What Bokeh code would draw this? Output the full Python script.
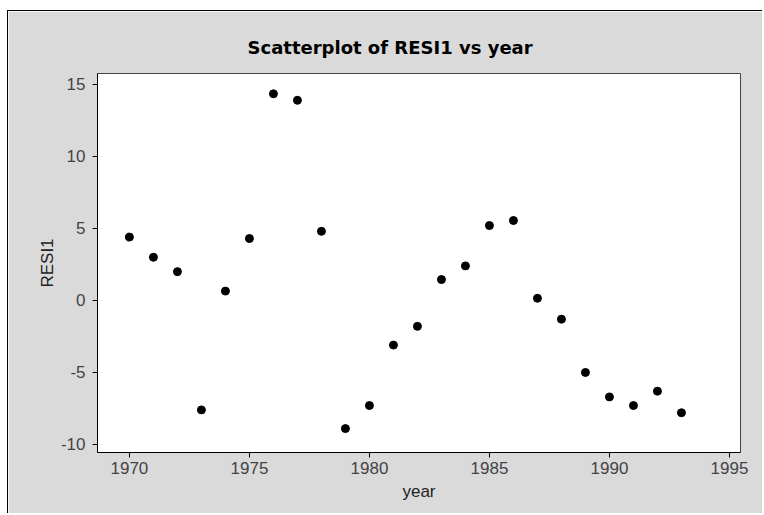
from bokeh.plotting import figure
from bokeh.models import ColumnDataSource, FixedTicker, Range1d, PrintfTickFormatter
from bokeh.embed import file_html
from bokeh.resources import INLINE

years = [1970, 1971, 1972, 1973, 1974, 1975, 1976, 1977, 1978, 1979, 1980, 1981,
         1982, 1983, 1984, 1985, 1986, 1987, 1988, 1989, 1990, 1991, 1992, 1993]
resi1 = [4.4, 3.0, 2.0, -7.6, 0.65, 4.3, 14.35, 13.9, 4.8, -8.9, -7.3, -3.1,
         -1.8, 1.45, 2.4, 5.2, 5.55, 0.15, -1.3, -5.0, -6.7, -7.3, -6.3, -7.8]
x_ticks = [1970, 1975, 1980, 1985, 1990, 1995]
y_ticks = [-10, -5, 0, 5, 10, 15]

src = ColumnDataSource(data=dict(year=years, resi=resi1))

p = figure(width=755, height=503, output_backend="svg", toolbar_location=None,
           x_range=Range1d(1968.67, 1995.46), y_range=Range1d(-10.56, 15.76),
           min_border_left=89, min_border_right=23, min_border_top=62, min_border_bottom=62,
           title="Scatterplot of RESI1 vs year")
p.styles = {"margin-left": "7px", "margin-top": "10px",
            "border-left": "1px solid black", "border-top": "1px solid black"}

p.scatter("year", "resi", source=src, size=8, color="black")

p.border_fill_color = "#dadada"
p.background_fill_color = "white"
p.outline_line_color = "#444444"
p.outline_line_width = 1
p.grid.visible = False

p.title.text_font = "DejaVu Sans"
p.title.text_font_size = "18px"
p.title.text_font_style = "bold"
p.title.text_color = "black"
p.title.align = "left"
p.title.offset = 150
p.title.standoff = 32

for ax in (p.xaxis[0], p.yaxis[0]):
    ax.major_label_text_font = "Liberation Sans"
    ax.major_label_text_font_size = "17px"
    ax.major_label_text_color = "#444444"
    ax.axis_label_text_font = "Liberation Sans"
    ax.axis_label_text_font_size = "17px"
    ax.axis_label_text_font_style = "normal"
    ax.axis_label_text_color = "#222222"
    ax.minor_tick_line_color = None
    ax.major_tick_in = 0
    ax.major_tick_out = 5
    ax.axis_line_color = "black"
    ax.major_tick_line_color = "black"
    ax.formatter = PrintfTickFormatter(format="%d")

p.xaxis[0].ticker = FixedTicker(ticks=x_ticks)
p.yaxis[0].ticker = FixedTicker(ticks=y_ticks)
p.xaxis[0].axis_label = "year"
p.yaxis[0].axis_label = "RESI1"
p.xaxis[0].major_label_standoff = 4
p.yaxis[0].major_label_standoff = 7
p.yaxis[0].axis_label_standoff = 1

open("out.html", "w").write(file_html(p, INLINE))
